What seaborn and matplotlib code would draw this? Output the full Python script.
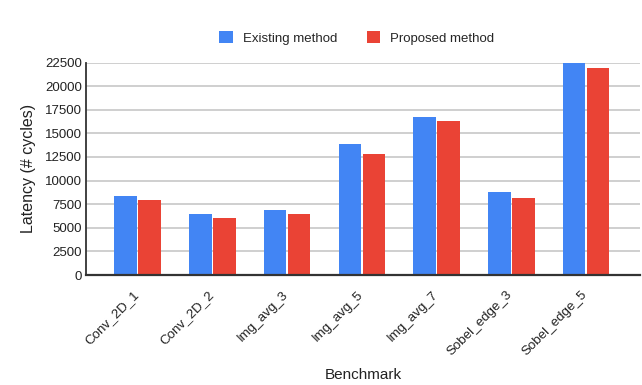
import matplotlib
matplotlib.use("Agg")
import matplotlib.pyplot as plt
import matplotlib.transforms as mtransforms
import seaborn as sns
import pandas as pd
from matplotlib.patches import Patch

benchmarks = ["Conv_2D_1", "Conv_2D_2", "Img_avg_3", "Img_avg_5",
              "Img_avg_7", "Sobel_edge_3", "Sobel_edge_5"]
existing = [8400, 6500, 6850, 13900, 16750, 8750, 22500]
proposed = [7950, 6000, 6500, 12800, 16300, 8150, 21900]
series = ["Existing method", "Proposed method"]
colors = ["#4285F4", "#EA4335"]
yticks = [0, 2500, 5000, 7500, 10000, 12500, 15000, 17500, 20000, 22500]

df = pd.DataFrame({
    "Benchmark": benchmarks * 2,
    "Latency": existing + proposed,
    "Method": [series[0]] * len(benchmarks) + [series[1]] * len(benchmarks),
})

sns.set_theme(style="white")
plt.rcParams["font.family"] = ["Liberation Sans", "DejaVu Sans"]

fig = plt.figure(figsize=(6.42, 3.85), dpi=100)
ax = fig.add_axes([86 / 642, 1 - 275 / 385, (640 - 86) / 642, (275 - 62.5) / 385])

sns.barplot(data=df, x="Benchmark", y="Latency", hue="Method",
            palette=colors, saturation=1, width=0.64, gap=0.06, ax=ax,
            edgecolor="none", legend=False, zorder=3)

ax.set_ylim(0, 22500)
ax.set_xlim(-0.69, 6.72)
ax.set_yticks(yticks)
ax.set_yticklabels([str(v) for v in yticks], fontsize=9.5, color="#222222")
ax.yaxis.grid(True, color="#cccccc", linewidth=1.3, zorder=0)
ax.set_axisbelow(True)
ax.tick_params(axis="y", length=0, pad=3)
ax.tick_params(axis="x", length=0, pad=10)

# nudge the rotated category labels slightly left so they end under each group
shift = mtransforms.ScaledTranslation(-5 / 100, 0, fig.dpi_scale_trans)
for lbl in ax.get_xticklabels():
    lbl.set_rotation(45)
    lbl.set_ha("right")
    lbl.set_rotation_mode("anchor")
    lbl.set_fontsize(9.6)
    lbl.set_color("#222222")
    lbl.set_transform(lbl.get_transform() + shift)

for side in ["top", "right"]:
    ax.spines[side].set_visible(False)
ax.spines["left"].set_color("#333333")
ax.spines["left"].set_linewidth(1.3)
ax.spines["bottom"].set_color("#333333")
ax.spines["bottom"].set_linewidth(1.6)
ax.spines["bottom"].set_zorder(4)

ax.set_xlabel("Benchmark", fontsize=11, color="#222222", labelpad=7)
ax.set_ylabel("Latency (# cycles)", fontsize=11.5, color="#222222", labelpad=6)

handles = [Patch(facecolor=c, edgecolor="none") for c in colors]
fig.legend(handles, series, loc="center", bbox_to_anchor=(357 / 642, 1 - 38 / 385),
           ncol=2, frameon=False, fontsize=9.5, handlelength=1.0, handleheight=1.0,
           handletextpad=0.8, columnspacing=2.2)

fig.savefig("out.png", dpi=100)
